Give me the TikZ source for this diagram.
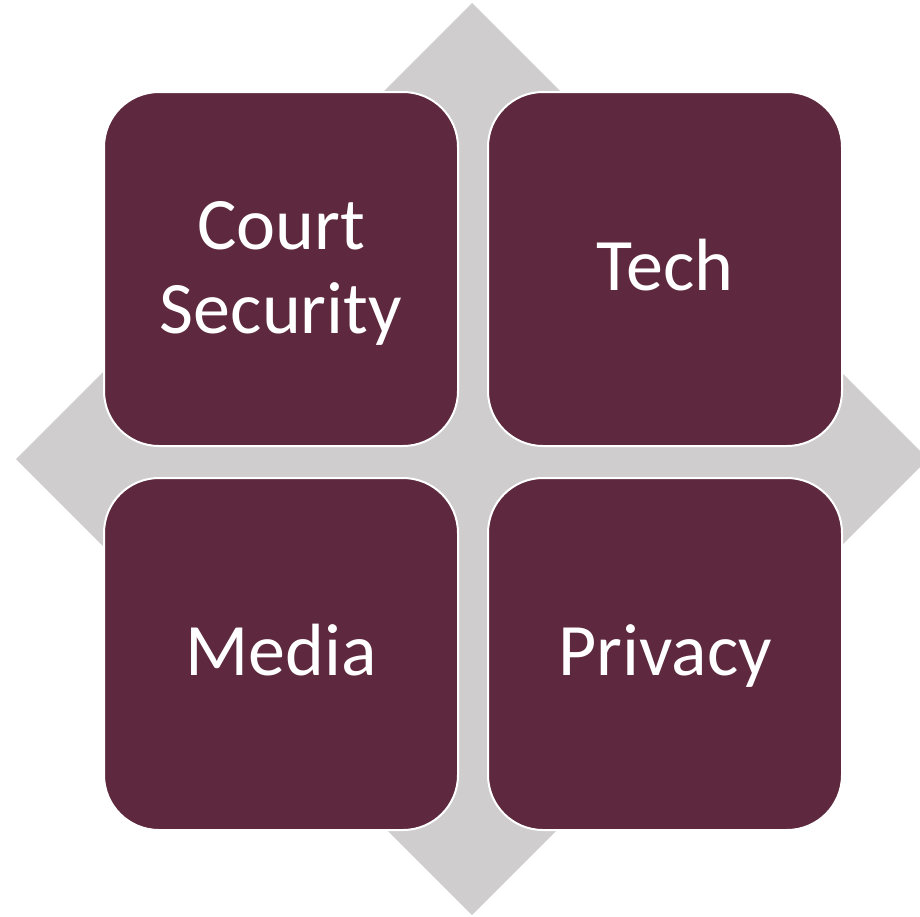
\documentclass[tikz,border=0pt]{standalone}
\usepackage{fontspec}
\setmainfont{Carlito}
\definecolor{boxmaroon}{RGB}{94,41,62}
\definecolor{diagray}{RGB}{208,205,206}
\begin{document}
\begin{tikzpicture}[x=1pt,y=-1pt,
  quad/.style={fill=boxmaroon,draw=white,line width=2pt,rounded corners=55pt},
  lbl/.style={text=white,font=\fontsize{74}{84}\selectfont,inner sep=0pt,align=center}]
\useasboundingbox (0,0) rectangle (920,916);
\begin{scope}
\clip (0,0) rectangle (920,916);
\fill[diagray] (472,3) coordinate (dt) -- (928,459) coordinate (dr) -- (472,915) coordinate (db) -- (16,459) coordinate (dl) -- cycle;
\end{scope}
\draw[quad] (104,92) rectangle (458,446);
\draw[quad] (488,92) rectangle (842,446);
\draw[quad] (104,478) rectangle (458,830);
\draw[quad] (488,478) rectangle (842,830);
\node[lbl] (court) at (281,273) {Court\\Security};
\node[lbl,anchor=base] (tech) at (665,290) {Tech};
\node[lbl,anchor=base] (media) at (281,675) {Media};
\node[lbl,anchor=base] (privacy) at (665,675) {Privacy};
\end{tikzpicture}
\end{document}
